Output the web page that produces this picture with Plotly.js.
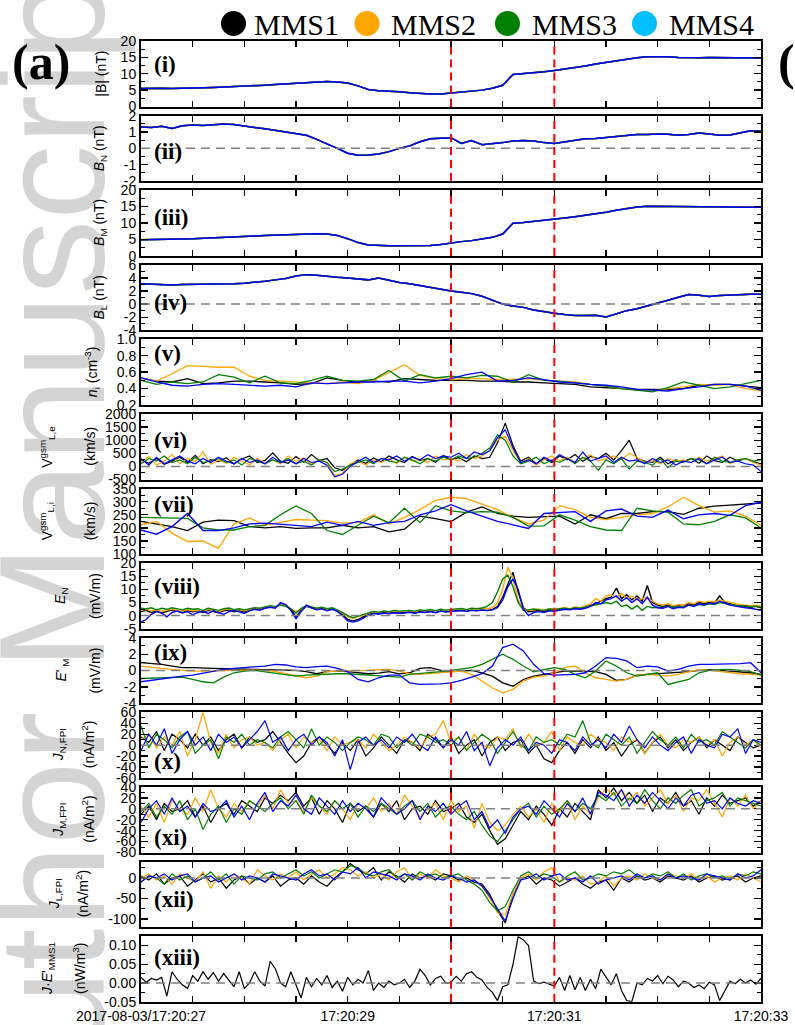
<!DOCTYPE html>
<html><head><meta charset="utf-8">
<script src="https://cdn.plot.ly/plotly-3.0.1.min.js"></script>
<style>html,body{margin:0;padding:0;background:#fff}#chart{width:795px;height:1025px}</style>
</head><body><div id="chart"></div>
<script>
// ---------------- DATA ----------------
const seriesNames = ['MMS1','MMS2','MMS3','MMS4'];
const xTickVals = [0, 2, 4, 6];           // seconds after 17:20:27
const xTickLabels = ['2017-08-03/17:20:27','17:20:29','17:20:31','17:20:33'];
const markTimes = [3, 4];                 // red dashed lines 17:20:30, 17:20:31

// B field (nT), 0.1 s samples, spacecraft overlap
const btot = [5.5,5.6,5.6,5.5,5.5,5.6,5.7,5.8,5.9,6.0,6.2,6.3,6.5,6.7,6.9,7.1,7.3,7.5,7.6,7.5,7.2,6.3,5.2,4.8,4.7,4.5,4.2,3.9,3.8,3.8,4.1,4.3,4.6,5.0,5.6,6.5,9.8,10.0,10.2,10.6,11.0,11.4,11.9,12.4,13.0,13.5,14.0,14.5,14.9,15.2,15.3,15.2,15.0,14.9,14.9,15.0,15.0,14.9,14.9,14.8,14.8];
const bn = [1.30,1.28,1.35,1.22,1.38,1.42,1.40,1.45,1.48,1.45,1.35,1.28,1.20,1.10,1.00,0.92,0.80,0.55,0.25,0.00,-0.30,-0.42,-0.40,-0.35,-0.20,0.00,0.15,0.40,0.58,0.60,0.65,0.30,0.48,0.22,0.28,0.35,0.45,0.48,0.45,0.35,0.30,0.40,0.52,0.58,0.60,0.66,0.72,0.82,0.85,0.85,0.88,0.86,0.80,0.85,0.93,0.88,0.80,0.82,0.95,1.08,1.05];
const bm = [4.9,4.9,5.0,4.9,5.1,5.2,5.3,5.4,5.5,5.7,5.9,6.0,6.2,6.3,6.5,6.6,6.7,6.7,6.6,6.2,5.2,4.0,3.3,3.1,3.0,3.0,3.0,3.0,3.1,3.4,3.9,4.3,4.6,5.0,5.6,6.6,9.9,10.1,10.4,10.7,11.1,11.5,11.9,12.3,12.8,13.3,13.9,14.5,14.9,15.1,15.1,15.1,15.0,14.9,14.9,14.9,14.9,14.9,14.8,14.8,14.8];
const bl = [3.1,3.0,3.0,2.9,3.0,3.0,3.0,3.0,3.1,3.1,3.2,3.3,3.5,3.7,3.9,4.3,4.5,4.4,4.2,4.1,4.0,3.8,3.7,4.0,3.6,3.3,3.1,2.8,2.5,2.2,2.0,1.8,1.6,1.2,0.6,0.0,-0.3,-0.5,-0.9,-1.2,-1.4,-1.6,-1.75,-1.75,-1.7,-1.95,-1.5,-1.0,-0.7,-0.3,0.1,0.6,1.05,1.45,1.35,1.15,1.3,1.4,1.45,1.5,1.5];

// ion density (cm^-3), 0.15 s samples
const ni1 = [0.53,0.49,0.48,0.52,0.46,0.47,0.49,0.49,0.48,0.47,0.45,0.46,0.53,0.50,0.48,0.49,0.48,0.52,0.51,0.50,0.50,0.50,0.49,0.49,0.48,0.48,0.47,0.46,0.45,0.42,0.41,0.40,0.39,0.39,0.39,0.40,0.44,0.45,0.45,0.43,0.41];
const ni2 = [0.52,0.49,0.58,0.68,0.67,0.66,0.66,0.55,0.50,0.49,0.48,0.47,0.46,0.48,0.46,0.50,0.60,0.69,0.56,0.52,0.51,0.52,0.52,0.51,0.51,0.52,0.50,0.49,0.48,0.45,0.43,0.40,0.38,0.37,0.40,0.42,0.45,0.44,0.45,0.40,0.37];
const ni3 = [0.50,0.45,0.48,0.46,0.48,0.57,0.54,0.47,0.55,0.47,0.46,0.50,0.55,0.50,0.49,0.51,0.62,0.49,0.57,0.53,0.55,0.53,0.56,0.55,0.48,0.57,0.50,0.49,0.47,0.45,0.43,0.40,0.38,0.36,0.41,0.48,0.44,0.40,0.42,0.46,0.50];
const ni4 = [0.53,0.48,0.44,0.43,0.45,0.46,0.45,0.44,0.43,0.44,0.42,0.47,0.46,0.47,0.48,0.48,0.49,0.49,0.47,0.49,0.52,0.57,0.60,0.49,0.50,0.53,0.51,0.48,0.47,0.45,0.44,0.42,0.39,0.38,0.37,0.40,0.42,0.45,0.45,0.43,0.38];

// electron V_L (km/s), 0.075 s samples
const vle1 = [250,120,300,80,200,350,150,420,100,260,180,330,90,280,400,150,230,520,200,120,380,160,450,220,300,-50,-150,60,250,120,320,180,400,250,150,380,220,300,160,420,250,330,180,400,300,350,900,1650,800,200,350,100,300,150,400,250,450,200,380,300,500,250,600,1000,300,200,150,350,100,250,180,300,120,400,220,150,350,200,300,180,100];
const vle2 = [150,380,50,200,450,100,300,180,550,80,250,120,350,200,60,300,150,250,100,400,200,320,80,250,150,-350,-250,100,200,50,250,150,300,100,350,200,280,150,400,250,300,200,450,300,400,600,1000,1150,600,150,300,50,250,400,200,350,150,300,450,200,300,400,250,500,350,150,250,100,300,200,250,150,350,200,300,400,100,250,300,150,50];
const vle3 = [100,300,200,400,150,250,100,350,150,200,300,150,250,50,300,200,100,250,150,300,100,200,50,250,150,-200,-100,50,150,250,100,300,200,150,350,250,100,300,200,350,250,400,300,350,500,700,1200,1000,400,100,200,350,100,250,150,300,100,350,200,-150,250,100,300,-100,200,150,50,300,-50,200,150,300,250,100,350,200,150,250,300,200,250];
const vle4 = [300,50,350,100,250,400,200,100,300,150,350,200,100,300,150,250,100,350,150,250,100,300,150,200,50,-400,-300,0,200,350,150,300,250,400,200,350,250,450,300,400,350,500,300,550,450,600,1100,1400,700,150,250,100,350,200,450,300,150,550,200,300,400,150,350,200,250,100,300,150,250,50,200,150,300,100,250,350,150,200,100,50,-200];

// ion V_L (km/s), 0.15 s samples
const vli1 = [225,215,205,190,222,230,228,205,200,205,198,200,200,210,200,205,185,195,245,235,224,260,280,255,245,240,242,245,215,250,235,255,255,262,262,252,275,283,287,290,295];
const vli2 = [212,225,180,148,150,122,215,238,210,222,232,230,228,218,220,250,215,240,270,305,317,312,290,270,240,215,230,285,270,240,232,240,250,255,280,317,285,260,265,245,210];
const vli3 = [240,238,238,236,200,192,192,205,210,250,284,255,190,175,210,245,220,275,220,285,265,258,262,260,240,207,208,250,230,205,192,190,275,265,260,215,212,225,250,238,200];
const vli4 = [192,176,205,255,190,190,200,215,218,215,210,205,222,210,225,210,220,225,250,265,289,265,245,225,212,198,255,258,262,225,265,272,245,240,268,235,250,255,248,285,298];

// E_N (mV/m), 0.05 s samples
const en1 = [1.5,2.0,1.2,1.8,1.0,1.5,2.2,1.6,1.3,1.9,1.5,1.8,1.2,2.0,1.6,1.1,1.8,2.2,1.5,1.9,1.4,2.2,2.6,2.4,3.0,3.5,3.2,4.5,4.0,2.5,-0.5,2.0,3.5,3.0,2.4,2.8,2.0,2.5,1.8,0.5,-1.5,-2.0,-1.5,-0.5,0.5,1.0,0.8,1.2,0.9,1.3,1.0,1.2,1.4,1.0,1.5,1.3,1.6,1.2,1.8,1.5,1.6,1.8,2.0,1.7,2.1,1.9,2.2,2.0,2.3,3.5,7.0,12.0,16.5,9.0,3.0,1.5,1.8,2.0,1.5,2.2,2.0,2.5,2.8,2.4,3.0,2.6,3.2,3.8,4.5,5.5,6.5,7.0,10.5,6.5,8.0,6.0,7.5,5.5,11.5,5.0,4.0,3.5,4.0,3.2,3.8,3.5,4.5,4.0,5.0,4.6,5.2,4.8,7.5,5.0,4.5,4.0,3.8,3.5,3.2,3.5,3.0];
const en2 = [2.0,2.4,1.8,2.2,1.6,2.0,2.5,1.9,1.7,2.3,1.8,2.0,1.6,2.4,2.0,1.5,2.2,2.6,1.9,2.3,1.8,2.4,2.8,2.6,3.2,3.6,3.3,4.2,3.8,2.8,1.5,2.5,3.6,3.2,2.6,3.0,2.4,2.8,2.0,1.0,-0.5,-1.0,-0.5,0.2,0.8,1.4,1.1,1.6,1.3,1.7,1.5,1.6,1.9,1.5,2.0,1.8,2.1,1.7,2.3,2.0,2.2,2.4,2.6,2.2,2.7,2.5,2.8,2.6,3.0,5.0,10.0,18.5,14.0,6.0,2.5,2.0,2.3,2.5,2.0,2.6,2.4,2.8,3.0,2.6,3.4,3.0,3.8,4.5,6.5,5.5,7.5,8.0,7.0,8.5,6.5,7.5,6.0,6.5,7.0,5.5,4.5,4.0,4.5,3.8,4.2,4.0,5.0,4.5,5.5,5.0,5.5,5.2,6.0,5.5,5.0,4.6,4.2,4.0,3.8,4.0,3.6];
const en3 = [2.8,2.5,3.0,2.2,2.8,2.4,3.0,2.5,2.2,2.8,2.4,2.6,2.0,2.8,2.4,2.0,2.6,2.9,2.3,2.6,2.2,2.6,3.0,2.8,3.4,3.8,3.4,4.0,3.5,2.6,1.0,2.8,3.8,3.4,2.8,3.2,2.6,3.0,2.2,1.2,0.0,-0.8,-0.2,0.5,1.2,1.6,1.3,1.8,1.5,2.0,1.7,1.8,2.0,1.7,2.2,2.0,2.3,1.9,2.4,2.1,2.3,2.5,2.7,2.3,2.8,2.6,2.9,3.5,5.0,9.0,14.0,15.5,11.0,5.0,2.0,2.2,2.5,2.2,2.0,2.5,2.3,2.6,2.8,2.5,3.0,2.8,3.2,3.5,4.0,4.5,5.0,4.5,5.5,3.5,4.0,2.5,3.8,2.0,3.5,3.0,3.2,3.0,3.6,3.2,3.5,3.4,4.0,3.8,4.2,4.0,4.5,4.2,5.0,4.6,4.2,4.0,3.6,3.8,3.4,3.6,3.2];
const en4 = [-2.5,-1.5,0.5,1.5,1.0,-0.5,1.2,1.8,1.0,1.5,0.3,1.2,1.6,0.8,1.8,1.2,0.5,1.5,2.0,1.4,0.8,1.8,2.4,2.0,2.8,3.2,2.8,5.0,4.2,2.0,-1.2,1.5,4.0,3.0,2.2,2.6,1.8,2.4,1.6,0.0,-2.0,-2.5,-2.0,-1.0,0.2,0.8,0.5,1.0,0.7,1.1,0.9,1.0,1.3,0.9,1.4,1.2,1.5,1.1,1.7,1.4,1.5,1.7,1.9,1.6,2.0,1.8,2.1,1.9,2.2,3.0,6.0,11.0,14.0,10.0,2.5,0.0,1.2,1.5,1.2,1.8,1.6,2.0,2.4,2.2,2.6,2.4,2.8,3.5,5.0,4.5,6.0,6.5,7.5,5.5,6.8,5.0,6.5,4.5,7.0,4.0,3.0,2.8,3.5,2.6,3.2,3.0,4.0,3.5,4.5,4.0,4.8,4.5,5.5,4.8,4.0,3.6,3.2,3.0,2.8,2.5,2.0];

// E'_M (mV/m), 0.1 s samples
const em1 = [0.96,0.85,0.76,0.55,0.35,0.35,0.27,0.27,0.22,0.18,0.14,0.14,0.14,0.10,0.02,0.02,-0.14,-0.39,-0.14,-0.06,-0.14,-0.27,-0.39,-0.31,-0.14,-0.4,-0.27,0.27,0.35,0.02,-0.14,-0.06,0.02,-0.27,-0.68,-1.5,-1.91,-1.09,-0.68,-0.47,-0.27,-0.06,-0.06,-0.14,-0.14,-0.47,-1.2,-1.09,-0.55,-0.47,-0.39,-0.39,-0.27,-0.14,0.02,0.1,0.02,-0.06,-0.14,-0.27,-0.47];
const em2 = [0.55,0.45,0.27,0.14,0.02,-0.06,-0.06,-0.06,0.02,0.02,0.06,0.02,0.02,-0.14,-0.39,-0.55,-0.88,-0.68,-0.14,-0.06,-0.06,-0.06,0.02,0.1,0.14,-0.06,-0.39,-0.47,-0.39,-0.27,-0.14,-0.06,-0.47,-1.29,-2.1,-2.73,-2.3,-1.29,-0.8,-0.68,-0.27,0.35,0.55,-0.27,-0.88,-1.09,-1.29,-1.09,-0.55,-0.47,-0.55,-0.68,-0.47,-0.14,0.14,0.02,-0.14,-0.27,-0.39,-0.47,-0.55];
const em3 = [-0.97,-0.93,-0.88,-0.84,-0.8,-1.09,-1.37,-1.5,-0.8,-0.27,-0.06,0.02,-0.14,-0.39,-0.55,-0.68,-0.55,-0.47,-0.39,-0.39,-0.39,-0.47,-0.47,-0.55,-0.72,-0.8,-0.47,-0.39,-0.27,-0.14,0.02,0.14,0.35,0.76,1.37,1.99,1.37,0.55,-0.14,0.14,0.35,0.14,-0.47,-0.88,-0.06,1.17,0.55,-0.27,-0.68,-0.47,-0.27,-1.7,-1.37,-1.09,-0.27,0.02,0.1,0.14,0.02,-0.14,-0.55];
const em4 = [-1.37,-1.2,-0.97,-0.8,-0.68,-0.55,-0.31,-0.06,0.14,0.27,0.35,0.45,0.55,0.76,0.68,0.45,0.35,0.47,0.55,0.27,-0.14,-1.09,-1.37,-0.88,-0.55,-0.55,-1.5,-1.7,-1.7,-1.62,-1.5,-1.2,-0.8,-0.39,0.55,2.81,3.22,2.4,0.76,-0.39,-0.55,-0.55,-0.47,-0.27,0.55,1.58,1.5,1.17,0.35,0.55,0.45,-0.06,0.14,0.55,0.76,0.76,0.76,0.76,0.85,0.96,-0.27];

// FPI currents (nA/m^2), 0.075 s samples
const jn1 = [15,5,25,-10,20,10,-5,20,0,15,-10,10,20,-5,15,5,10,25,5,-15,-32,-20,5,15,0,-15,5,-10,10,-20,-5,15,0,-15,10,5,-10,20,10,-5,15,-15,0,10,-20,5,15,-10,5,10,-15,0,-25,-32,-10,5,-15,10,-5,15,-10,5,-20,0,10,-15,5,15,-5,10,-10,5,15,-5,10,0,-10,15,5,-5,0];
const jn2 = [10,20,-5,15,0,25,-20,10,60,5,-15,20,-5,10,15,0,5,-10,10,20,-5,15,5,10,-10,15,0,5,10,-5,20,5,-10,0,15,5,-5,15,20,45,5,15,-10,20,0,-5,15,10,30,-5,20,0,5,25,-10,15,5,0,20,10,5,-10,15,5,10,-15,5,20,0,-5,10,5,15,0,10,-20,5,15,0,10,-5];
const jn3 = [35,-5,20,10,-5,15,25,-15,0,10,-25,15,5,20,0,10,5,-5,15,25,10,-5,30,0,15,5,-10,5,15,10,0,20,15,-5,10,0,20,15,5,10,0,15,-10,5,20,10,-15,5,25,0,-10,15,5,10,0,20,15,45,5,-5,20,10,0,15,-15,5,25,10,0,15,-5,20,5,10,0,25,15,5,-5,10,0];
const jn4 = [-10,20,0,30,-15,10,25,0,15,-10,20,5,15,-5,10,25,45,5,15,-10,10,20,0,15,5,-20,10,-45,5,15,0,10,-5,15,5,20,0,-10,15,-5,10,0,25,-10,5,-38,-5,10,0,15,-10,5,0,-15,10,5,-10,15,0,10,-5,20,5,35,10,-5,15,0,-10,5,15,-15,10,0,-5,20,15,30,-15,10,5];
const jm1 = [-10,5,-20,10,-5,0,15,-15,5,-25,0,10,-10,15,5,-5,20,10,25,15,30,5,20,-10,15,0,-25,10,-5,5,-15,10,-5,15,-20,0,5,-10,15,-5,0,10,-15,-25,-10,-40,-65,-55,-30,-5,-20,5,-10,-30,0,-15,10,-5,-20,35,20,38,15,30,10,25,-5,20,10,30,5,15,-10,20,5,25,10,15,20,5,15];
const jm2 = [5,-15,10,-25,15,0,-10,20,-5,35,0,-15,10,-5,15,5,25,0,35,10,15,-5,20,5,-10,15,0,-20,10,0,20,-5,10,-10,25,5,-15,0,10,-20,15,-5,5,-35,10,-25,-40,-30,-10,5,-15,0,-25,10,-5,15,-20,5,-10,20,38,25,35,15,30,5,20,35,10,25,-5,20,15,35,10,-15,20,5,25,0,15];
const jm3 = [-5,10,-15,5,-10,15,-20,0,-38,-10,5,-25,0,-10,15,5,-5,10,20,0,15,-10,25,5,-5,15,0,10,-15,5,-5,10,0,-10,5,15,-5,10,-15,0,5,-10,-20,-5,-30,-50,-60,-40,-20,0,10,-15,5,-10,0,15,-5,10,0,25,15,30,5,20,10,35,15,0,20,10,25,35,5,15,20,30,5,20,15,10,5];
const jm4 = [-25,0,15,-10,20,-5,5,-15,10,-5,0,15,-15,5,-20,10,30,-5,15,5,25,0,-10,20,5,-10,15,-5,10,0,-15,20,5,-10,0,15,-20,5,-5,10,-10,5,15,-20,-5,-35,-20,-45,-15,0,5,-10,15,0,-15,10,-5,20,-10,30,25,15,35,5,25,10,30,15,0,20,5,25,30,10,15,0,20,10,5,15,10];
const jl1 = [5,-5,10,-15,0,5,-20,-5,10,-10,0,-25,-5,5,-15,0,-10,5,-20,-5,0,-15,5,-10,-20,0,15,35,20,10,25,-5,15,5,-10,10,0,5,-5,10,5,-5,0,-10,-15,-40,-80,-110,-40,-5,5,-15,0,-5,-20,-10,0,-15,-25,-10,-5,-30,0,-10,5,-5,0,-10,5,0,-5,5,-10,0,5,-5,0,5,-10,0,5];
const jl2 = [0,10,-5,5,-15,10,0,-10,15,-25,5,-10,10,0,-15,20,5,-5,10,0,15,-5,10,20,0,10,25,20,5,15,0,10,-5,15,25,-5,10,0,20,5,0,-10,5,-5,-20,-50,-85,-90,-40,0,10,-5,15,25,-10,0,-5,5,-15,-10,5,-20,0,5,-5,10,0,-5,10,5,0,10,-5,5,-10,0,5,-5,10,0,-10];
const jl3 = [-10,5,0,-15,10,-5,5,-10,0,15,-5,10,-15,5,0,-5,10,15,0,10,20,5,15,0,10,20,15,30,25,10,5,15,20,0,10,-5,15,5,10,0,5,10,-5,-15,-30,-60,-80,-70,-30,5,15,0,10,5,-10,5,15,-5,0,10,5,15,10,20,5,0,10,5,15,0,10,-5,5,10,0,5,-5,10,5,15,10];
const jl4 = [-10,5,0,10,-5,5,10,-10,0,5,-10,0,10,-5,5,0,-10,10,5,0,-5,10,20,5,10,-5,15,10,25,0,15,10,5,-5,10,5,-5,10,0,-5,5,0,-10,-5,-20,-45,-75,-105,-50,-5,0,10,-5,5,10,-5,0,-10,5,-15,-5,0,5,-5,10,0,5,-5,10,0,5,0,-5,10,5,0,-5,10,0,5,20];

// J.E'_MMS1 (nW/m^3), 0.05 s samples
const je1 = [0.015,0.002,0.012,0.008,0.015,-0.035,0.030,0.010,-0.005,-0.015,0.020,0.005,0.030,0.010,0.028,0.005,0.025,0.008,-0.010,0.030,-0.015,0.000,0.030,0.005,-0.008,0.058,0.038,0.000,-0.010,0.030,-0.005,-0.040,0.015,-0.010,0.012,-0.005,0.020,-0.012,0.005,-0.022,0.015,-0.005,0.010,0.000,0.033,-0.020,0.000,-0.012,0.005,-0.005,0.000,0.010,-0.012,0.005,0.037,0.020,-0.005,0.012,0.018,0.000,0.002,0.018,0.005,0.025,0.030,0.015,0.008,-0.012,-0.025,-0.047,-0.010,-0.005,0.050,0.124,0.115,0.100,0.005,-0.002,0.002,-0.002,-0.008,0.015,-0.020,0.020,-0.018,0.015,-0.020,0.010,-0.015,0.037,0.015,-0.005,0.025,-0.020,-0.047,-0.050,0.000,-0.005,0.012,0.005,0.020,-0.002,0.018,0.008,-0.010,0.005,0.000,-0.012,-0.005,-0.015,0.002,-0.005,-0.047,-0.020,0.005,-0.002,0.010,0.000,0.008,-0.003,0.012];

// y tick values per panel
const ticksBtot = [0,5,10,15,20];
const ticksBn = [-2,-1,0,1,2];
const ticksBm = [0,5,10,15,20];
const ticksBl = [-4,-2,0,2,4,6];
const ticksNi = [0.2,0.4,0.6,0.8,1.0];
const ticksVe = [-500,0,500,1000,1500,2000];
const ticksVi = [100,150,200,250,300,350];
const ticksEn = [-5,0,5,10,15,20];
const ticksEm = [-4,-2,0,2,4];
const ticksJn = [-60,-40,-20,0,20,40,60];
const ticksJm = [-80,-60,-40,-20,0,20,40];
const ticksJl = [-100,-50,0];
const ticksJE = [-0.05,0.00,0.05,0.10];

// ---------------- LAYOUT ----------------
const W = 795, H = 1025, L = 141, R = 761, T = 41, B = 1002;
const fx = px => (px - L) / (R - L);
const fy = py => (B - py) / (B - T);
const STEP = 74.6, PH = 65.5;
const colors = ['#000000', '#FFA500', '#008000', '#0000FF'];
const legendColors = ['#000000', '#FFA500', '#008000', '#00BFFF'];
const SANS = 'Liberation Sans, Arial, Helvetica, sans-serif';
const SERIF = 'Liberation Serif, Times New Roman, serif';

const panels = [
  {lab:'(i)', ly:65, titles:[['|B| (nT)',101]], range:[0,20], tv:ticksBtot, minor:2.5, dec:0, zero:false, data:[btot,btot,btot,btot], dt:0.1, lw:1.5},
  {lab:'(ii)', ly:152, titles:[['<i>B</i><sub>N</sub> (nT)',100]], range:[-2,2], tv:ticksBn, minor:0.5, dec:0, zero:true, data:[bn,bn,bn,bn], dt:0.1, lw:1.5},
  {lab:'(iii)', ly:218, titles:[['<i>B</i><sub>M</sub> (nT)',100]], range:[0,20], tv:ticksBm, minor:2.5, dec:0, zero:false, data:[bm,bm,bm,bm], dt:0.1, lw:1.5},
  {lab:'(iv)', ly:303, titles:[['<i>B</i><sub>L</sub> (nT)',100]], range:[-4,6], tv:ticksBl, minor:1, dec:0, zero:true, data:[bl,bl,bl,bl], dt:0.1, lw:1.5},
  {lab:'(v)', ly:354, titles:[['<i>n</i><sub>i</sub> (cm<sup>-3</sup>)',92]], range:[0.2,1.0], tv:ticksNi, minor:0.1, dec:1, zero:false, data:[ni1,ni2,ni3,ni4], dt:0.15, lw:1.3},
  {lab:'(vi)', ly:440, titles:[['V<sup>gsm</sup><sub>L,e</sub>',47],['(km/s)',90]], range:[-500,2000], tv:ticksVe, minor:250, dec:0, zero:true, data:[vle1,vle2,vle3,vle4], dt:0.075, lw:1.2},
  {lab:'(vii)', ly:505, titles:[['V<sup>gsm</sup><sub>L,i</sub>',47],['(km/s)',90]], range:[100,350], tv:ticksVi, minor:25, dec:0, zero:false, data:[vli1,vli2,vli3,vli4], dt:0.15, lw:1.3},
  {lab:'(viii)', ly:586, titles:[['<i>E</i><sub>N</sub>',61],['(mV/m)',95]], range:[-5,20], tv:ticksEn, minor:2.5, dec:0, zero:true, data:[en1,en2,en3,en4], dt:0.05, lw:1.4},
  {lab:'(ix)', ly:652, titles:[["<i>E</i>'<sub> M</sub>",62],['(mV/m)',95]], range:[-4,4], tv:ticksEm, minor:1, dec:0, zero:true, data:[em1,em2,em3,em4], dt:0.1, lw:1.3},
  {lab:'(x)', ly:761, titles:[['<i>J</i><sub>N,FPI</sub>',59],['(nA/m<sup>2</sup>)',88]], range:[-60,60], tv:ticksJn, minor:10, dec:0, zero:true, data:[jn1,jn2,jn3,jn4], dt:0.075, lw:1.2},
  {lab:'(xi)', ly:837, titles:[['<i>J</i><sub>M,FPI</sub>',59],['(nA/m<sup>2</sup>)',88]], range:[-80,40], tv:ticksJm, minor:10, dec:0, zero:true, data:[jm1,jm2,jm3,jm4], dt:0.075, lw:1.2},
  {lab:'(xii)', ly:899, titles:[['<i>J</i><sub>L,FPI</sub>',55],['(nA/m<sup>2</sup>)',82]], range:[-120,40], tv:ticksJl, minor:25, dec:0, zero:true, data:[jl1,jl2,jl3,jl4], dt:0.075, lw:1.2},
  {lab:'(xiii)', ly:957, titles:[["<i>J</i>·<i>E</i>'<sub>MMS1</sub>",48],['(nW/m<sup>3</sup>)',79]], range:[-0.05,0.125], tv:ticksJE, minor:0.025, dec:2, zero:true, data:[je1], dt:0.05, lw:1.2}
];

const times = (n, dt) => Array.from({length:n}, (_, i) => Math.round(i * dt * 10000) / 10000);

const traces = [];
const layout = {
  width: W, height: H,
  margin: {l: L, r: W - R, t: T, b: H - B, pad: 0},
  paper_bgcolor: '#ffffff', plot_bgcolor: '#ffffff',
  showlegend: false,
  font: {family: SANS, size: 14, color: '#000'},
  shapes: [], annotations: []
};

// watermark of the source page, drawn beneath axes and texts
layout.shapes.push({type:'rect', xref:'paper', yref:'paper', layer:'below',
  x0:fx(0), x1:fx(76), y0:fy(1025), y1:fy(65),
  line:{width:0}, fillcolor:'rgba(0,0,0,0)',
  label:{text:'Author Manuscript', textangle:-90, textposition:'middle center',
    font:{family:SANS, size:150, color:'#d4d4d4'}}});

panels.forEach((p, k) => {
  const n = k + 1;
  const xn = n === 1 ? 'x' : 'x' + n, yn = n === 1 ? 'y' : 'y' + n;
  const top = T + STEP * k, bot = top + PH;
  layout[n === 1 ? 'xaxis' : 'xaxis' + n] = {
    domain:[0,1], range:[0,6], anchor: yn, type:'linear',
    tickmode:'array', tickvals:xTickVals, ticktext:xTickLabels, showticklabels: n === panels.length,
    ticks:'inside', ticklen:6, tickwidth:1.3, tickcolor:'#000',
    minor:{ticks:'inside', ticklen:6, tickwidth:1.3, tickcolor:'#000', dtick:0.5, tick0:0},
    mirror:'ticks', showline:true, linewidth:2, linecolor:'#000',
    showgrid:false, zeroline:false, fixedrange:true,
    tickfont:{family:SANS, size:14, color:'#000'}
  };
  layout[n === 1 ? 'yaxis' : 'yaxis' + n] = {
    domain:[fy(bot), fy(top)], range:p.range, anchor: xn,
    tickmode:'array', tickvals:p.tv, ticktext:p.tv.map(v => v.toFixed(p.dec)),
    ticks:'inside', ticklen:7, tickwidth:1.3, tickcolor:'#000',
    minor:{ticks:'inside', ticklen:4, tickwidth:1, tickcolor:'#000', dtick:p.minor, tick0:0},
    mirror:'ticks', showline:true, linewidth:2, linecolor:'#000',
    showgrid:false, zeroline:false, fixedrange:true,
    tickfont:{family:SANS, size:14, color:'#000'}
  };
  p.data.forEach((arr, s) => {
    traces.push({type:'scatter', mode:'lines', x: times(arr.length, p.dt), y: arr,
      xaxis: xn, yaxis: yn, name: seriesNames[s],
      line:{color: colors[s], width: p.lw}, hoverinfo:'skip'});
  });
  if (p.zero) {
    layout.shapes.push({type:'line', xref: xn + ' domain', yref: yn, x0:0, x1:1, y0:0, y1:0,
      line:{color:'#808080', width:1.5, dash:'9px,6px'}, layer:'above'});
  }
  markTimes.forEach(t => {
    layout.shapes.push({type:'line', xref: xn, yref: yn + ' domain', x0:t, x1:t, y0:0, y1:1,
      line:{color:'#FF0000', width:2, dash:'8px,5px'}, layer:'above'});
  });
  // panel label
  layout.annotations.push({text:'<b>' + p.lab + '</b>', xref:'paper', yref:'paper', x:fx(152), y:fy(p.ly),
    xanchor:'left', yanchor:'middle', showarrow:false, font:{family:SERIF, size:23, color:'#000'}});
  // y titles
  const cy = (top + bot) / 2;
  p.titles.forEach(([txt, px]) => {
    layout.annotations.push({text: txt, xref:'paper', yref:'paper', x:fx(px), y:fy(cy),
      xanchor:'center', yanchor:'middle', textangle:-90, showarrow:false,
      font:{family:SANS, size:14, color:'#000'}});
  });
});

// legend (circles + labels)
const legendCircleX = [233.5, 367, 507.5, 644.5];
const legendTextX = [252, 389, 530, 667];
seriesNames.forEach((nm, i) => {
  layout.shapes.push({type:'circle', xref:'paper', yref:'paper', xsizemode:'pixel', ysizemode:'pixel',
    xanchor: fx(legendCircleX[i]), yanchor: fy(23.5), x0:-12.5, x1:12.5, y0:-12.5, y1:12.5,
    fillcolor: legendColors[i], line:{width:0}});
  layout.annotations.push({text: nm, xref:'paper', yref:'paper', x: fx(legendTextX[i]), y: fy(24),
    xanchor:'left', yanchor:'middle', showarrow:false, font:{family:SERIF, size:30, color:'#000'}});
});

// figure letters
layout.annotations.push({text:'<b>(a)</b>', xref:'paper', yref:'paper', x:fx(41), y:fy(62),
  xanchor:'center', yanchor:'middle', showarrow:false, font:{family:SERIF, size:50, color:'#000'}});
layout.annotations.push({text:'<b>(b)</b>', xref:'paper', yref:'paper', x:fx(776), y:fy(62),
  xanchor:'left', yanchor:'middle', showarrow:false, font:{family:SERIF, size:50, color:'#000'}});

Plotly.newPlot('chart', traces, layout, {displayModeBar:false, staticPlot:true});
</script></body></html>
